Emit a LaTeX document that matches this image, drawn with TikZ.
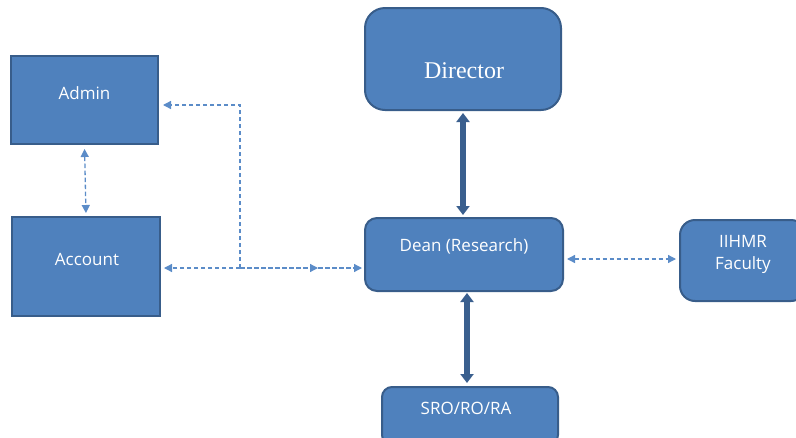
\documentclass[tikz,border=0pt]{standalone}
\usepackage{fontspec}
\newfontfamily\boxsans{Open Sans}
\newfontfamily\boxserif{Liberation Serif}
\usetikzlibrary{arrows.meta}
\definecolor{boxfill}{HTML}{4F81BD}
\definecolor{boxline}{HTML}{385D8A}
\definecolor{thickarrow}{HTML}{3A5F8E}
\definecolor{dashcol}{HTML}{5B8CC8}
\tikzset{
  orgbox/.style={draw=boxline, line width=2pt, fill=boxfill, inner sep=0pt},
  lbl/.style={text=white, font=\boxsans\fontsize{17}{20}\selectfont, inner sep=0pt, align=center},
  dashlink/.style={draw=dashcol, line width=1.3pt, dash pattern=on 4.5pt off 2.5pt},
  dtip/.style={-{Triangle[length=8pt,width=8pt]}},
  ddtip/.style={{Triangle[length=8pt,width=8pt]}-{Triangle[length=8pt,width=8pt]}},
  thicklink/.style={draw=thickarrow, line width=5.5pt, {Triangle[length=9pt,width=13pt]}-{Triangle[length=9pt,width=13pt]}}
}
\begin{document}
\begin{tikzpicture}[x=1pt,y=-1pt]
\useasboundingbox (0,0) rectangle (796,437);
\clip (0,0) rectangle (796,437);
% boxes
\node[orgbox, minimum width=147pt, minimum height=88pt] (admin) at (84.5,100) {};
\node[orgbox, minimum width=148pt, minimum height=99pt] (account) at (86,266.5) {};
\node[orgbox, rounded corners=20pt, minimum width=196pt, minimum height=102pt] (director) at (463,59) {};
\node[orgbox, rounded corners=12pt, minimum width=198pt, minimum height=73pt] (dean) at (464,254.5) {};
\node[orgbox, rounded corners=15pt, minimum width=126pt, minimum height=81pt] (iihmr) at (743,260.5) {};
\node[orgbox, rounded corners=10pt, minimum width=176pt, minimum height=58pt] (sro) at (470,416) {};
% labels
\node[lbl] (tadmin) at (84.5,93) {Admin};
\node[lbl] (taccount) at (87,259) {Account};
\node[lbl, font=\boxserif\fontsize{24}{28}\selectfont] (tdirector) at (464,71) {Director};
\node[lbl] (tdean) at (464,246) {Dean (Research)};
\node[lbl, font=\boxsans\fontsize{17}{22}\selectfont] (tiihmr) at (743,254) {IIHMR\\Faculty};
\node[lbl] (tsro) at (466,408) {SRO/RO/RA};
% coordinates
\coordinate (top) at (240,105);
\coordinate (j) at (240,268);
\coordinate (m) at (318,268);
\coordinate (ud) at (463,110);
\coordinate (dd) at (467,291);
\coordinate (rr) at (563,259);
% dashed connectors
\draw[dashlink, ddtip, shorten <=4pt, shorten >=3pt] (admin.south) -- (account.north);
\draw[dashlink, dtip, shorten >=4pt] (j) -- (top) -- (top -| admin.east);
\draw[dashlink, dtip, shorten >=3pt] (j) -- (j -| account.east);
\draw[dashlink, dtip] (j) -- (m);
\draw[dashlink, dtip, shorten >=2pt] (m) -- (m -| dean.west);
\draw[dashlink, ddtip, shorten <=4pt, shorten >=3pt] (rr) -- (rr -| iihmr.west);
% thick connectors
\draw[thicklink, shorten <=3pt, shorten >=2pt] (ud) -- (ud |- dean.north);
\draw[thicklink, shorten <=2pt, shorten >=3pt] (dd) -- (dd |- sro.north);
\end{tikzpicture}
\end{document}
